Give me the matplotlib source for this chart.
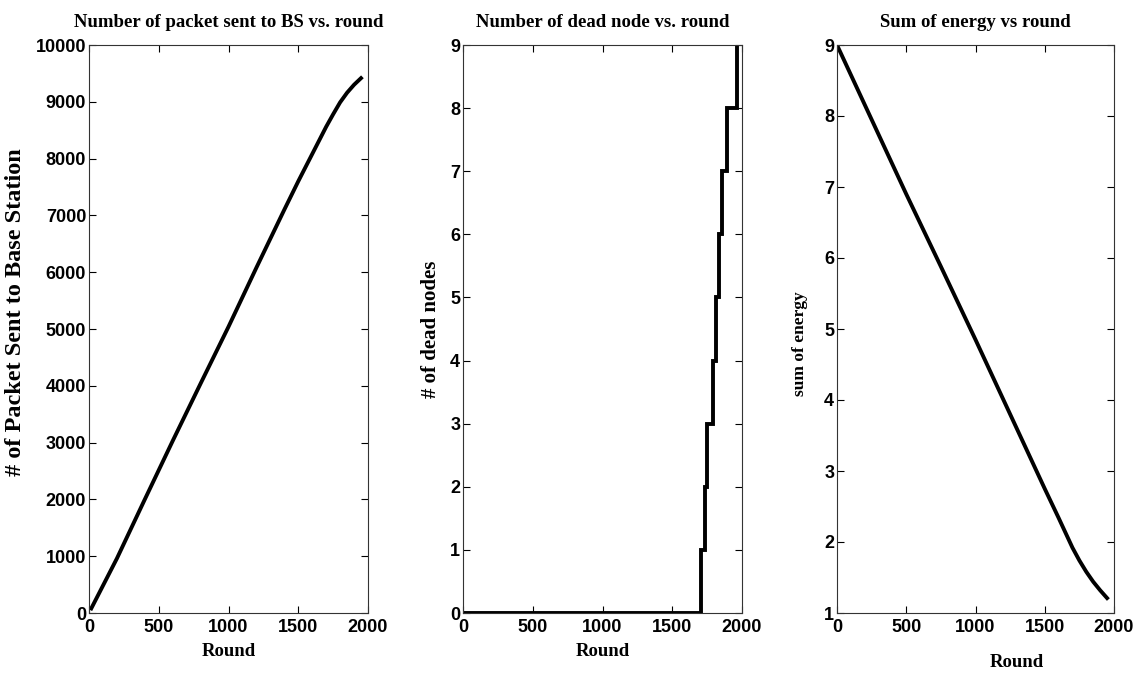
import matplotlib
matplotlib.use("Agg")
import matplotlib.pyplot as plt
from matplotlib import font_manager

# --- data ---
pkt_rounds = [10, 200, 400, 600, 800, 1000, 1200, 1400, 1500, 1600, 1700, 1750, 1800, 1850, 1900, 1960]
pkt_values = [50, 960, 2000, 3030, 4040, 5040, 6080, 7100, 7600, 8080, 8560, 8780, 8990, 9160, 9300, 9440]

death_rounds = [1706, 1735, 1748, 1790, 1812, 1832, 1855, 1890, 1962]

en_rounds = [0, 250, 500, 750, 1000, 1250, 1500, 1600, 1700, 1750, 1800, 1850, 1900, 1950]
en_values = [9.0, 7.95, 6.9, 5.88, 4.85, 3.8, 2.75, 2.34, 1.92, 1.74, 1.58, 1.44, 1.32, 1.21]

x_ticks = [0, 500, 1000, 1500, 2000]

# step series for the dead nodes
dead_x = [0]
dead_y = [0]
for i, r in enumerate(death_rounds):
    dead_x += [r, r]
    dead_y += [i, i + 1]
dead_x.append(1966)
dead_y.append(len(death_rounds))


def pick_font(names):
    for n in names:
        try:
            font_manager.findfont(n, fallback_to_default=False)
            return n
        except Exception:
            pass
    return "DejaVu Sans"


tick_font = pick_font(["Liberation Sans Narrow", "Liberation Sans"])
text_font = pick_font(["Liberation Serif", "DejaVu Serif"])

fig = plt.figure(figsize=(11.34, 6.73), dpi=100)
W, H = 1134.0, 673.0


def make_axes(left, right, top=45, bottom=613):
    return fig.add_axes([left / W, 1 - bottom / H, (right - left) / W, (bottom - top) / H])


ax1 = make_axes(89, 368)
ax2 = make_axes(463, 742)
ax3 = make_axes(837, 1114)

ax1.plot(pkt_rounds, pkt_values, color="black", lw=2.8, solid_capstyle="butt")
ax2.plot(dead_x, dead_y, color="black", lw=2.8, solid_joinstyle="miter")
ax3.plot(en_rounds, en_values, color="black", lw=2.8)

ax1.set_ylim(0, 10000)
ax1.set_yticks(range(0, 10001, 1000))
ax2.set_ylim(0, 9)
ax2.set_yticks(range(0, 10))
ax3.set_ylim(1, 9)
ax3.set_yticks(range(1, 10))

titles = ["Number of packet sent to BS vs. round",
          "Number of dead node vs. round",
          "Sum of energy vs round"]
ylabels = ["# of Packet Sent to Base Station", "# of dead nodes", "sum of energy"]
ylab_size = [17.5, 15, 12.5]
ylab_pos = [(-0.225, 0.53), (-0.08, 0.5), (-0.105, 0.475)]
xlab_pos = [(0.5, -0.052), (0.5, -0.052), (0.65, -0.072)]

for ax, t, yl, ys, yp, xp in zip([ax1, ax2, ax3], titles, ylabels, ylab_size, ylab_pos, xlab_pos):
    ax.set_xlim(0, 2000)
    ax.set_xticks(x_ticks)
    ax.tick_params(direction="in", length=5, width=0.8, top=True, right=True,
                   labelsize=13)
    ax.tick_params(axis="x", pad=4)
    ax.tick_params(axis="y", pad=2)
    for lab in ax.get_xticklabels() + ax.get_yticklabels():
        lab.set_fontfamily(tick_font)
        lab.set_fontweight("bold")
    for s in ax.spines.values():
        s.set_linewidth(0.8)
        s.set_color("#333333")
    ax.set_title(t, fontsize=13.5, fontweight="bold", family=text_font, pad=13)
    ax.set_ylabel(yl, fontsize=ys, fontweight="bold", family=text_font)
    ax.set_xlabel("Round", fontsize=13.5, fontweight="bold", family=text_font)
    ax.yaxis.set_label_coords(*yp)
    ax.xaxis.set_label_coords(*xp)

fig.savefig("out.png", dpi=100)
